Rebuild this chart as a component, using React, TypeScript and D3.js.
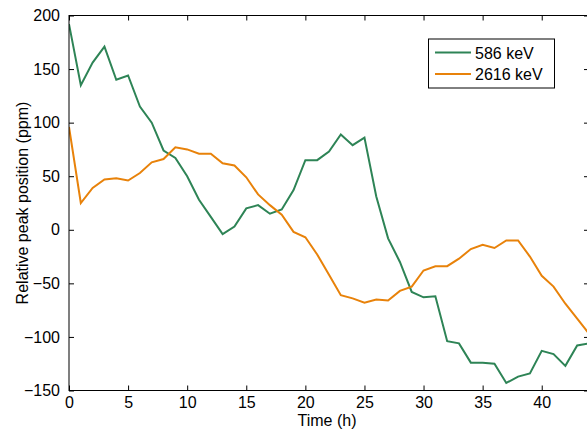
import { useEffect, useRef } from "react"
import * as d3 from "d3"

// hours since start of run
const hours = [
	0, 1, 2, 3, 4, 5, 6, 7, 8, 9, 10, 11, 12, 13, 14, 15, 16, 17, 18, 19, 20, 21, 22,
	23, 24, 25, 26, 27, 28, 29, 30, 31, 32, 33, 34, 35, 36, 37, 38, 39, 40, 41, 42, 43, 44,
]

// relative peak position (ppm), 586 keV line
const peak586 = [
	192, 135, 156, 171, 140, 144, 115, 100, 74, 67, 50, 28, 12, -4, 3, 20, 23, 15, 19, 37,
	65, 65, 73, 89, 79, 86, 31, -8, -30, -58, -63, -62, -104, -106, -124, -124, -125, -143,
	-137, -134, -113, -116, -127, -108, -106,
]

// relative peak position (ppm), 2616 keV line
const peak2616 = [
	96, 25, 39, 47, 48, 46, 53, 63, 66, 77, 75, 71, 71, 62, 60, 49, 33, 23, 14, -2, -7, -23,
	-42, -61, -64, -68, -65, -66, -57, -53, -38, -34, -34, -27, -18, -14, -17, -10, -10, -25,
	-43, -53, -69, -83, -97,
]

const seriesNames = ["586 keV", "2616 keV"]
const seriesColors = ["#2e8456", "#e8820a"]
const xTicks = [0, 5, 10, 15, 20, 25, 30, 35, 40]
const yTicks = [-150, -100, -50, 0, 50, 100, 150, 200]

const App = () => {
	const svgRef = useRef(null)

	useEffect(() => {
		const svg = d3.select(svgRef.current)
		svg.selectAll("*").remove()

		const width = 587
		const height = 432
		const left = 69
		const right = 589
		const top = 15.5
		const bottom = 390.5
		const font = "Liberation Sans, Arial, sans-serif"

		const x = d3.scaleLinear().domain([0, 44]).range([left, right])
		const y = d3.scaleLinear().domain([-150, 200]).range([bottom, top])

		svg.attr("width", width).attr("height", height)

		svg.append("defs")
			.append("clipPath")
			.attr("id", "plotClip")
			.append("rect")
			.attr("x", left)
			.attr("y", top)
			.attr("width", right - left)
			.attr("height", bottom - top)

		// lines
		const line = d3
			.line<number>()
			.x((d, i) => x(hours[i]))
			.y((d) => y(d))

		const plot = svg.append("g").attr("clip-path", "url(#plotClip)")
		;[peak586, peak2616].forEach((vals, k) => {
			plot.append("path")
				.datum(vals)
				.attr("d", line)
				.attr("fill", "none")
				.attr("stroke", seriesColors[k])
				.attr("stroke-width", 2)
				.attr("stroke-linejoin", "miter")
		})

		// axes, matlab style: ticks pointing inward on all four sides
		const tickLen = 5
		const styleAxis = (g: any) => {
			g.select(".domain").remove()
			g.selectAll("line").attr("stroke", "black")
			g.selectAll("text")
				.attr("font-family", font)
				.attr("font-size", 16)
				.attr("fill", "black")
		}

		svg.append("g")
			.attr("transform", `translate(0,${bottom})`)
			.call(d3.axisBottom(x).tickValues(xTicks).tickSizeInner(-tickLen).tickSizeOuter(0).tickPadding(6))
			.call(styleAxis)

		svg.append("g")
			.attr("transform", `translate(0,${top})`)
			.call(d3.axisTop(x).tickValues(xTicks).tickSizeInner(-tickLen).tickSizeOuter(0).tickFormat(() => ""))
			.call(styleAxis)

		svg.append("g")
			.attr("transform", `translate(${left},0)`)
			.call(d3.axisLeft(y).tickValues(yTicks).tickSizeInner(-tickLen).tickSizeOuter(0).tickPadding(9))
			.call(styleAxis)

		svg.append("g")
			.attr("transform", `translate(${right},0)`)
			.call(d3.axisRight(y).tickValues(yTicks).tickSizeInner(-tickLen).tickSizeOuter(0).tickFormat(() => ""))
			.call(styleAxis)

		// box
		svg.append("rect")
			.attr("x", left)
			.attr("y", top)
			.attr("width", right - left)
			.attr("height", bottom - top)
			.attr("fill", "none")
			.attr("stroke", "black")
			.attr("stroke-width", 1)

		// axis labels
		svg.append("text")
			.attr("x", (left + right) / 2 - 2)
			.attr("y", 426)
			.attr("text-anchor", "middle")
			.attr("font-family", font)
			.attr("font-size", 16)
			.text("Time (h)")

		svg.append("text")
			.attr("transform", `translate(28,${(top + bottom) / 2}) rotate(-90)`)
			.attr("text-anchor", "middle")
			.attr("font-family", font)
			.attr("font-size", 16)
			.text("Relative peak position (ppm)")

		// legend
		const legend = svg.append("g")
		legend.append("rect")
			.attr("x", 428.5)
			.attr("y", 39)
			.attr("width", 126)
			.attr("height", 49)
			.attr("fill", "white")
			.attr("stroke", "black")
			.attr("stroke-width", 1)
		seriesNames.forEach((name, k) => {
			const ly = 52.5 + k * 21.5
			legend.append("line")
				.attr("x1", 435)
				.attr("x2", 471)
				.attr("y1", ly)
				.attr("y2", ly)
				.attr("stroke", seriesColors[k])
				.attr("stroke-width", 2)
			legend.append("text")
				.attr("x", 475)
				.attr("y", ly + 6)
				.attr("font-family", font)
				.attr("font-size", 16)
				.text(name)
		})
	}, [])

	return <svg ref={svgRef} style={{ position: "absolute", left: 0, top: 0 }}></svg>
}

export default App
